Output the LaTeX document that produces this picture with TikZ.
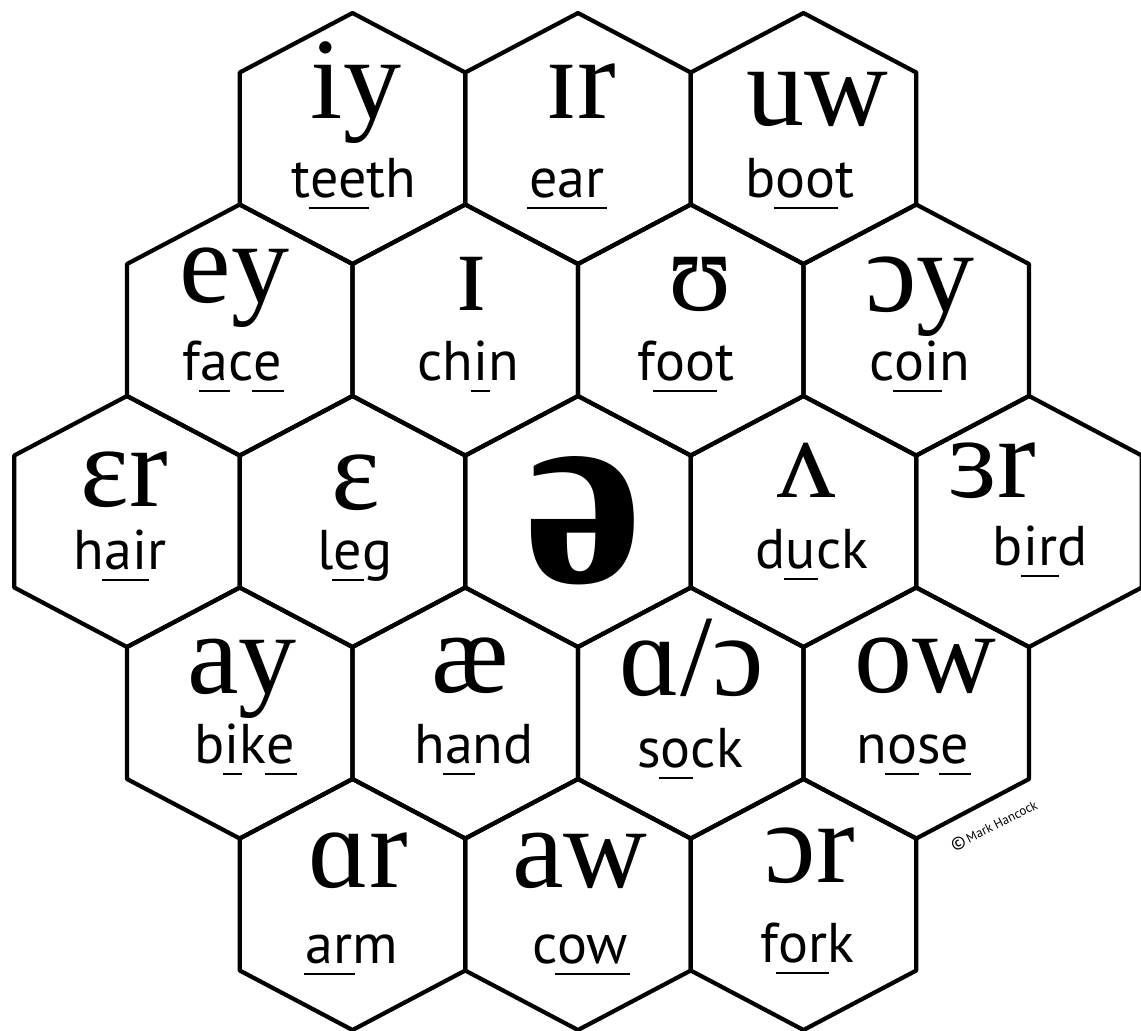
\documentclass[tikz,border=0pt]{standalone}
\usepackage{fontspec}
\setmainfont{Liberation Serif}
\setsansfont{PT Sans}
\usetikzlibrary{arrows.meta}
\newcommand{\HexCell}[3]{%
  \coordinate (hex-#1) at (#2,#3);%
  \draw[hexline] (#2,#3-125.5) -- (#2+112.75,#3-66) -- (#2+112.75,#3+66) -- (#2,#3+125.5) -- (#2-112.75,#3+66) -- (#2-112.75,#3-66) -- cycle;%
}
\newcommand{\Ul}[1]{%
  \setbox0=\hbox{#1}\rlap{\kern-1pt\rule[-6pt]{\dimexpr\wd0+2pt\relax}{1pt}}\box0%
}

\begin{document}
\begin{tikzpicture}[x=0.5pt,y=-0.5pt,
  hexline/.style={line width=2.1pt,line join=round},
  ipa/.style={font=\fontsize{58}{60}\selectfont,inner sep=0pt,anchor=base},
  schwa/.style={font=\bfseries\fontsize{134}{140}\selectfont,inner sep=0pt,anchor=base},
  word/.style={font=\sffamily\fontsize{28}{30}\selectfont,inner sep=0pt,anchor=base},
  credit/.style={font=\sffamily\fontsize{6.5}{7}\selectfont,inner sep=0pt}]
\useasboundingbox (0,0) rectangle (1141,1030);
% honeycomb
\foreach \n/\cx/\cy in {iy/352.5/138.5, ir/578/138.5, uw/803.5/138.5,
  ey/239.75/330, ih/465.25/330, uh/690.75/330, oy/916.25/330,
  er/127/521.5, eh/352.5/521.5, schwa/578/521.5, ah/803.5/521.5, ur/1029/521.5,
  ay/239.75/713, ae/465.25/713, aa/690.75/713, ow/916.25/713,
  ar/352.5/904.5, aw/578/904.5, or/803.5/904.5}
  \HexCell{\n}{\cx}{\cy};
% row 1
\node[ipa] (s-iy) at (356,118) {iy};
\node[word] (w-iy) at (354,197) {t\Ul{ee}th};
\node[ipa] (s-ir) at (581,118) {ɪr};
\node[word] (w-ir) at (567,197) {\Ul{ear}};
\node[ipa] (s-uw) at (817,125) {uw};
\node[word] (w-uw) at (800,197) {b\Ul{oo}t};
% row 2
\node[ipa] (s-ey) at (234.5,302) {ey};
\node[word] (w-ey) at (232.5,380) {f\Ul{a}c\Ul{e}};
\node[ipa] (s-ih) at (472,310) {ɪ};
\node[word] (w-ih) at (468,380) {ch\Ul{i}n};
\node[ipa] (s-uh) at (700,310) {ʊ};
\node[word] (w-uh) at (686,380) {f\Ul{oo}t};
\node[ipa] (s-oy) at (920,311) {ɔy};
\node[word] (w-oy) at (920,380) {c\Ul{oi}n};
% row 3
\node[ipa] (s-er) at (124,506) {ɛr};
\node[word] (w-er) at (120,569) {h\Ul{ai}r};
\node[ipa] (s-eh) at (356,509) {ɛ};
\node[word] (w-eh) at (355,569) {l\Ul{e}g};
\node[schwa] (s-schwa) at (584,582) {ə};
\node[ipa] (s-ah) at (806,497) {ʌ};
\node[word] (w-ah) at (812,568) {d\Ul{u}ck};
\node[ipa] (s-ur) at (992,497) {ɜr};
\node[word] (w-ur) at (1040,565) {b\Ul{ir}d};
% row 4
\node[ipa] (s-ay) at (242,693) {ay};
\node[word] (w-ay) at (245,763) {b\Ul{i}k\Ul{e}};
\node[ipa] (s-ae) at (470,692) {æ};
\node[word] (w-ae) at (474,763) {h\Ul{a}nd};
\node[ipa] (s-aa) at (692,695) {ɑ/ɔ};
\node[word] (w-aa) at (690,767) {s\Ul{o}ck};
\node[ipa] (s-ow) at (925,692) {ow};
\node[word] (w-ow) at (913,763) {n\Ul{o}s\Ul{e}};
% row 5
\node[ipa] (s-ar) at (358,887) {ɑr};
\node[word] (w-ar) at (352,963) {\Ul{ar}m};
\node[ipa] (s-aw) at (580,887) {aw};
\node[word] (w-aw) at (580,963) {c\Ul{ow}};
\node[ipa] (s-or) at (810,882) {ɔr};
\node[word] (w-or) at (807,962) {f\Ul{or}k};
\node[credit,rotate=27] (credit) at (994,825) {{\fontsize{9}{9}\selectfont\textcopyright}\,Mark Hancock};
\end{tikzpicture}
\end{document}
